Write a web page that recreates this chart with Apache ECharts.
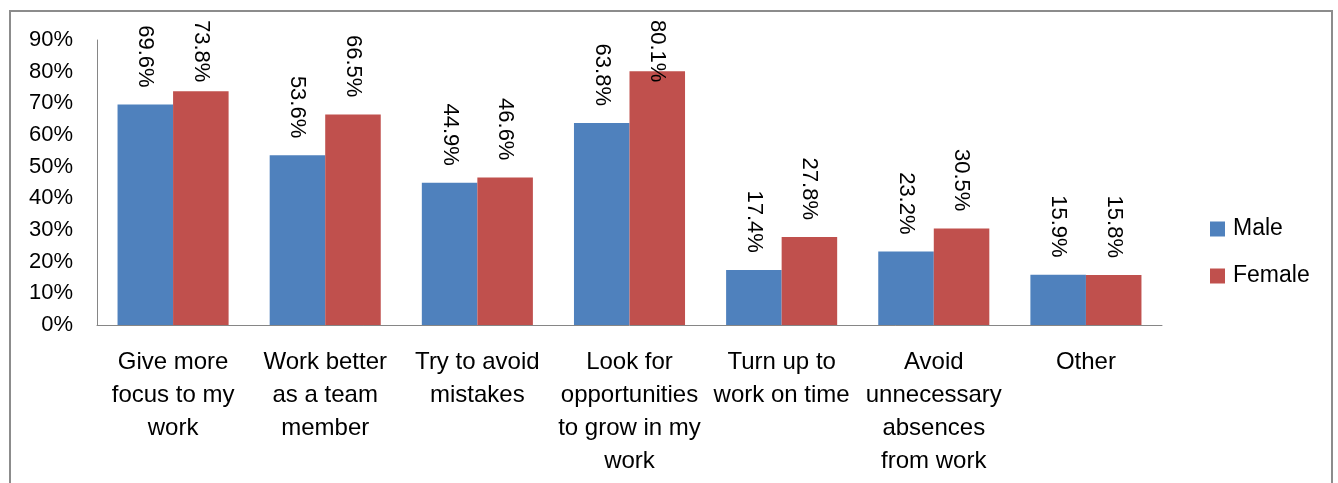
<!DOCTYPE html>
<html>
<head>
<meta charset="utf-8">
<script src="https://cdn.jsdelivr.net/npm/echarts@6/dist/echarts.min.js"></script>
<style>
  html, body { margin: 0; padding: 0; background: #ffffff; }
  #chart { width: 1338px; height: 483px; }
</style>
</head>
<body>
<div id="chart"></div>
<script>
// Survey responses by gender (percent of respondents)
const categories = [
  'Give more\nfocus to my\nwork',
  'Work better\nas a team\nmember',
  'Try to avoid\nmistakes',
  'Look for\nopportunities\nto grow in my\nwork',
  'Turn up to\nwork on time',
  'Avoid\nunnecessary\nabsences\nfrom work',
  'Other'
];
const maleValues = [69.6, 53.6, 44.9, 63.8, 17.4, 23.2, 15.9];
const femaleValues = [73.8, 66.5, 46.6, 80.1, 27.8, 30.5, 15.8];
const seriesNames = ['Male', 'Female'];
const seriesColors = ['#4F81BD', '#C0504D'];
const yTicks = { min: 0, max: 90, interval: 10 };

const FONT = '"Liberation Sans", Arial, sans-serif';
const LABEL_FONT_SIZE = 22;
const LABEL_GAP = 17;
const LABEL_TOP_LIMIT = 20;

const fmtPct = v => v.toFixed(1) + '%';

const chart = echarts.init(document.getElementById('chart'), null, { renderer: 'canvas' });

const valueLabel = {
  show: true,
  position: 'top',
  distance: LABEL_GAP,
  rotate: -90,
  align: 'right',
  verticalAlign: 'middle',
  color: '#000000',
  fontFamily: FONT,
  fontSize: LABEL_FONT_SIZE,
  formatter: p => fmtPct(p.value)
};

const barSeries = (values, idx) => ({
  name: seriesNames[idx],
  type: 'bar',
  data: values,
  barWidth: '36.5%',
  barGap: '0%',
  itemStyle: { color: seriesColors[idx] },
  label: valueLabel
});

chart.setOption({
  animation: false,
  backgroundColor: '#ffffff',
  textStyle: { fontFamily: FONT },
  graphic: [{
    type: 'rect',
    shape: { x: 10, y: 11, width: 1322, height: 500 },
    style: { fill: 'none', stroke: '#8c8c8c', lineWidth: 2 },
    silent: true
  }],
  grid: { left: 97, right: 176, top: 40, bottom: 158, containLabel: false },
  legend: {
    orient: 'vertical',
    left: 1205,
    top: 212,
    icon: 'rect',
    itemWidth: 15,
    itemHeight: 15,
    itemGap: 23,
    textStyle: { fontFamily: FONT, fontSize: 23, color: '#000000', lineHeight: 24, padding: [0, 0, 0, 3] },
    data: seriesNames
  },
  xAxis: {
    type: 'category',
    data: categories,
    axisLine: { lineStyle: { color: '#868686', width: 1 } },
    axisTick: { show: false },
    axisLabel: {
      interval: 0,
      color: '#000000',
      fontFamily: FONT,
      fontSize: 24,
      lineHeight: 33,
      margin: 21,
      align: 'center'
    }
  },
  yAxis: {
    type: 'value',
    min: yTicks.min,
    max: yTicks.max,
    interval: yTicks.interval,
    splitLine: { show: false },
    axisLine: { show: true, lineStyle: { color: '#868686', width: 1 } },
    axisTick: { show: false },
    axisLabel: {
      color: '#000000',
      fontFamily: FONT,
      fontSize: 22,
      margin: 24,
      padding: [6, 0, 0, 0],
      formatter: '{value}%'
    }
  },
  series: [barSeries(maleValues, 0), barSeries(femaleValues, 1)]
});

// Labels that would run past the top of the frame are pulled down so they
// stay inside it, even if that means overlapping their bar.
const ctx = document.createElement('canvas').getContext('2d');
ctx.font = LABEL_FONT_SIZE + 'px ' + FONT;
const fitted = values => values.map((v, i) => {
  const barTop = chart.convertToPixel({ gridIndex: 0 }, [i, v])[1];
  const textLen = ctx.measureText(fmtPct(v)).width;
  const room = barTop - LABEL_TOP_LIMIT - textLen;
  return { value: v, label: { distance: Math.min(LABEL_GAP, room) } };
});
chart.setOption({
  series: [{ data: fitted(maleValues) }, { data: fitted(femaleValues) }]
});
</script>
</body>
</html>
